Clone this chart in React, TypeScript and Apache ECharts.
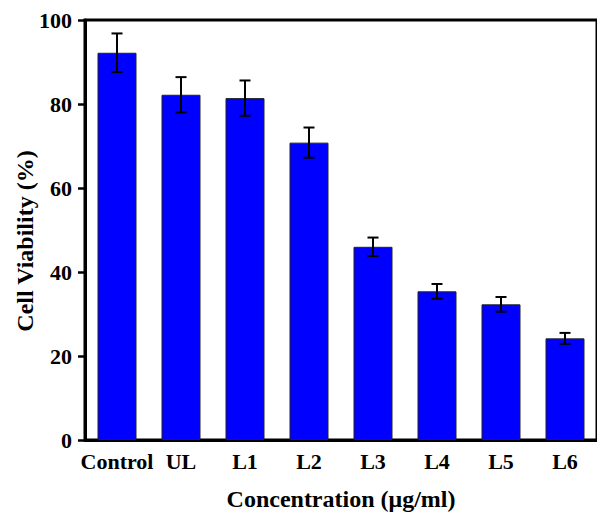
import React, { useEffect, useRef } from "react";
import * as echarts from "echarts";

const categories = ["Control", "UL", "L1", "L2", "L3", "L4", "L5", "L6"];
const viability = [92.2, 82.2, 81.4, 70.8, 46.0, 35.4, 32.3, 24.2];
const errors = [4.6, 4.2, 4.2, 3.6, 2.2, 1.75, 1.75, 1.3];
const yTicks = [0, 20, 40, 60, 80, 100];

const FONT = '"Liberation Serif", "Times New Roman", serif';

export default function App() {
  const ref = useRef<HTMLDivElement>(null);

  useEffect(() => {
    document.body.style.margin = "0";
    if (!ref.current) return;
    const chart = echarts.init(ref.current, undefined, { renderer: "svg" });
    const errData = categories.map((_, i) => [i, viability[i] - errors[i], viability[i] + errors[i]]);
    chart.setOption({
      animation: false,
      backgroundColor: "#ffffff",
      grid: {
        left: 85,
        top: 20,
        width: 519,
        height: 420,
        show: true,
        borderColor: "#000",
        borderWidth: 3,
        backgroundColor: "transparent",
      },
      xAxis: {
        type: "category",
        data: categories,
        name: "Concentration (μg/ml)",
        nameLocation: "middle",
        nameGap: 47,
        nameTextStyle: { fontFamily: FONT, fontWeight: "bold", fontSize: 24, color: "#000" },
        axisLine: { lineStyle: { color: "#000", width: 3 } },
        axisTick: { alignWithLabel: true, length: 7, lineStyle: { color: "#000", width: 2.5 } },
        axisLabel: { interval: 0, fontFamily: FONT, fontWeight: "bold", fontSize: 22, color: "#000", margin: 10 },
        splitLine: { show: false },
      },
      yAxis: {
        type: "value",
        min: yTicks[0],
        max: yTicks[yTicks.length - 1],
        interval: 20,
        axisLine: { show: true, lineStyle: { color: "#000", width: 3 } },
        axisTick: { show: true, length: 7, lineStyle: { color: "#000", width: 2.5 } },
        axisLabel: { fontFamily: FONT, fontWeight: "bold", fontSize: 22, color: "#000", margin: 13 },
        splitLine: { show: false },
      },
      graphic: [
        {
          type: "text",
          x: 25,
          y: 241,
          rotation: Math.PI / 2,
          style: {
            text: "Cell Viability (%)",
            fontFamily: FONT,
            fontWeight: "bold",
            fontSize: 24,
            fill: "#000",
            align: "center",
            verticalAlign: "middle",
          },
        },
      ],
      series: [
        {
          type: "bar",
          data: viability,
          barWidth: 39,
          itemStyle: { color: "#0000ff", borderColor: "#222", borderWidth: 1 },
          z: 2,
        },
        {
          type: "custom",
          data: errData,
          z: 5,
          renderItem: (params: any, api: any) => {
            const x = api.value(0);
            const lo = api.coord([x, api.value(1)]);
            const hi = api.coord([x, api.value(2)]);
            const hw = 5.5;
            const style = { stroke: "#000", lineWidth: 2 };
            return {
              type: "group",
              children: [
                { type: "line", shape: { x1: hi[0], y1: hi[1], x2: lo[0], y2: lo[1] }, style },
                { type: "line", shape: { x1: hi[0] - hw, y1: hi[1], x2: hi[0] + hw, y2: hi[1] }, style },
                { type: "line", shape: { x1: lo[0] - hw, y1: lo[1], x2: lo[0] + hw, y2: lo[1] }, style },
              ],
            };
          },
        },
      ],
    });
    return () => chart.dispose();
  }, []);

  return <div ref={ref} style={{ width: 597, height: 518 }} />;
}
